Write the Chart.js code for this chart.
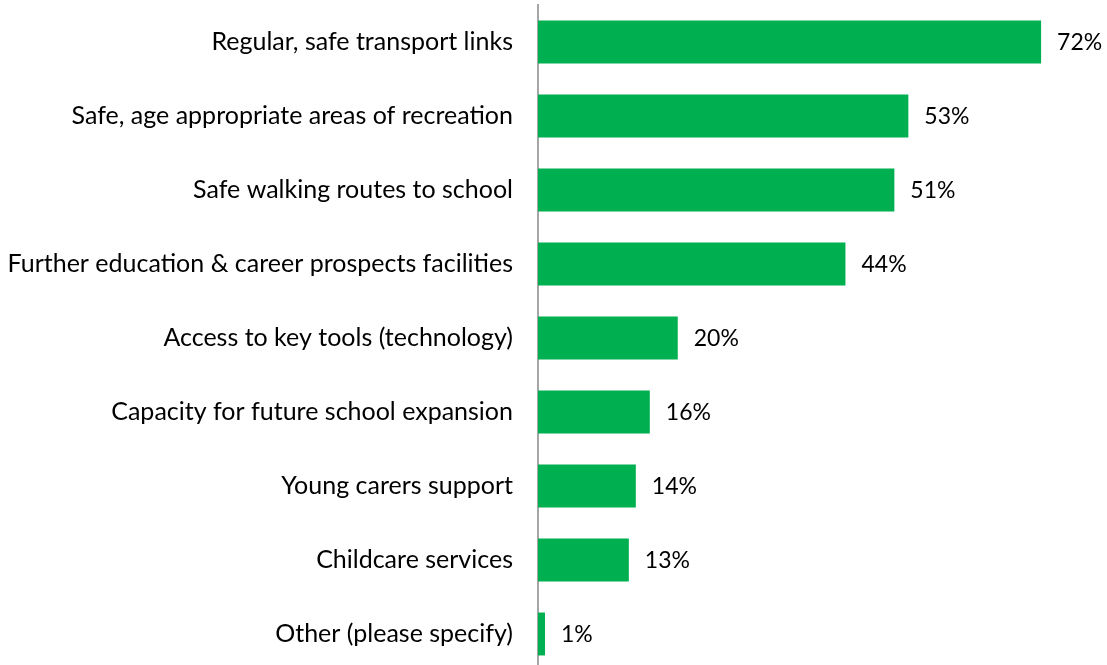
<!DOCTYPE html>
<html>
<head>
<meta charset="utf-8">
<script src="https://cdn.jsdelivr.net/npm/chart.js@4.4.1/dist/chart.umd.min.js"></script>
<style>
  html, body { margin: 0; padding: 0; background: #fff; overflow: hidden; }
  canvas { display: block; }
</style>
</head>
<body>
<canvas id="chart" width="1107" height="671"></canvas>
<script>
"use strict";

// categories and values
var categories = [
    "Regular, safe transport links",
    "Safe, age appropriate areas of recreation",
    "Safe walking routes to school",
    "Further education & career prospects facilities",
    "Access to key tools (technology)",
    "Capacity for future school expansion",
    "Young carers support",
    "Childcare services",
    "Other (please specify)"
];
var percentages = [72, 53, 51, 44, 20, 16, 14, 13, 1];

var fontFamily = "Lato, 'Open Sans', sans-serif";

// draws the "72%" style labels to the right of each bar
var valueLabels = {
    id: "valueLabels",
    afterDatasetsDraw: function (chart) {
        var ctx = chart.ctx;
        var meta = chart.getDatasetMeta(0);
        ctx.save();
        ctx.font = "23px " + fontFamily;
        ctx.fillStyle = "#000";
        ctx.textAlign = "left";
        ctx.textBaseline = "middle";
        meta.data.forEach(function (bar, i) {
            ctx.fillText(percentages[i] + "%", bar.x + 16, bar.y + 1);
        });
        ctx.restore();
    }
};

new Chart(document.getElementById("chart"), {
    type: "bar",
    data: {
        labels: categories,
        datasets: [{
            data: percentages,
            backgroundColor: "#00B050",
            barPercentage: 0.58,
            categoryPercentage: 1
        }]
    },
    options: {
        indexAxis: "y",
        responsive: false,
        animation: false,
        layout: { padding: { top: 5, right: 10, bottom: 0, left: 0 } },
        plugins: {
            legend: { display: false },
            tooltip: { enabled: false }
        },
        scales: {
            x: {
                display: false,
                min: 0,
                max: 80
            },
            y: {
                grid: { display: false, drawTicks: false },
                border: { display: true, color: "#a6a6a6", width: 2 },
                ticks: {
                    color: "#000",
                    padding: 25,
                    font: { family: fontFamily, size: 25 }
                },
                afterFit: function (scale) {
                    scale.width = 538;
                    // tick padding would otherwise also shrink the plot vertically
                    scale.paddingTop = 0;
                    scale.paddingBottom = 0;
                }
            }
        }
    },
    plugins: [valueLabels]
});
</script>
</body>
</html>
